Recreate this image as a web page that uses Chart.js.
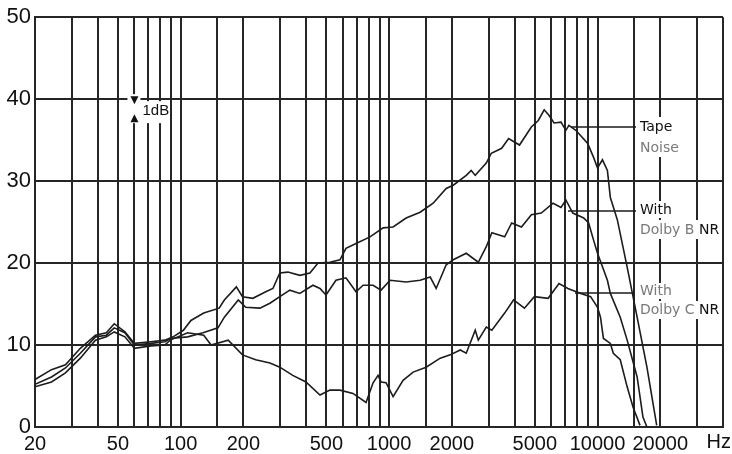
<!DOCTYPE html>
<html>
<head>
<meta charset="utf-8">
<script src="https://cdn.jsdelivr.net/npm/chart.js"></script>
<style>
  body { margin: 0; background: #fff; }
</style>
</head>
<body>
<canvas id="noiseChart" width="732" height="454"></canvas>
<script>
// frequencies (Hz) and levels (dB)
const tapeFreq = [20, 24, 28, 33, 39, 44, 48, 54, 60, 72, 84, 92, 103, 112, 129, 153, 162, 185, 198, 222, 256, 277, 299, 327, 373, 417, 456, 520, 581, 621, 694, 810, 936, 1045, 1207, 1409, 1627, 1879, 2031, 2345, 2478, 2590, 2926, 3093, 3467, 3745, 4224, 4815, 5197, 5549, 5859, 6186, 6680, 7050, 7290, 7870, 8970, 9573, 10000, 10560, 11153, 11523, 12443, 13875, 15490, 17260, 19230];
const tapeDb = [5.8, 7.0, 7.6, 9.6, 11.2, 11.5, 12.6, 11.6, 10.2, 10.4, 10.6, 11.0, 11.8, 13.0, 13.9, 14.5, 15.5, 17.1, 15.9, 15.7, 16.5, 16.9, 18.8, 18.9, 18.5, 18.8, 20.0, 20.1, 20.4, 21.8, 22.4, 23.2, 24.3, 24.4, 25.5, 26.2, 27.3, 29.1, 29.5, 30.7, 31.3, 30.7, 32.2, 33.4, 34.0, 35.2, 34.4, 36.6, 37.4, 38.7, 38.0, 37.1, 37.2, 36.2, 36.8, 36.2, 34.6, 32.9, 31.6, 32.6, 31.3, 28.0, 25.3, 19.5, 13.4, 7.3, 0.2];

const dolbyBFreq = [20, 24, 28, 33, 39, 44, 48, 54, 60, 72, 84, 89, 108, 128, 151, 162, 189, 205, 240, 268, 299, 334, 373, 431, 466, 498, 556, 621, 694, 750, 838, 915, 1011, 1207, 1409, 1575, 1682, 1879, 2031, 2345, 2679, 2926, 3112, 3585, 3873, 4318, 4815, 5370, 6120, 6680, 7050, 7610, 8584, 9066, 9573, 10000, 11153, 11523, 12853, 13875, 15490, 16520, 17260];
const dolbyBDb = [5.2, 6.1, 7.2, 9.0, 11.0, 11.2, 12.1, 11.5, 10.0, 10.2, 10.4, 10.8, 11.0, 11.5, 12.1, 13.4, 15.5, 14.6, 14.5, 15.1, 15.9, 16.7, 16.3, 17.3, 16.9, 16.1, 17.9, 18.2, 16.5, 17.3, 17.3, 16.7, 17.9, 17.7, 17.9, 18.3, 16.9, 19.8, 20.4, 21.2, 20.1, 22.0, 23.7, 23.2, 24.9, 24.4, 25.9, 26.1, 27.3, 26.8, 27.7, 26.1, 25.5, 24.9, 22.8, 21.2, 17.9, 16.3, 13.4, 10.6, 6.1, 1.2, 0];

const dolbyCFreq = [20, 24, 28, 33, 39, 44, 48, 54, 60, 72, 84, 89, 108, 129, 140, 169, 198, 229, 268, 299, 345, 399, 466, 520, 581, 671, 775, 838, 885, 915, 967, 1045, 1167, 1304, 1506, 1759, 1965, 2195, 2345, 2590, 2679, 2926, 3112, 3585, 3955, 4460, 4975, 5795, 6535, 7210, 8310, 9265, 10000, 10332, 10676, 11523, 11907, 12853, 13875, 14813, 15990];
const dolbyCDb = [4.9, 5.5, 6.6, 8.4, 10.6, 11.0, 11.6, 11.0, 9.6, 9.9, 10.0, 10.6, 11.5, 11.2, 10.0, 10.6, 8.8, 8.2, 7.8, 7.3, 6.3, 5.5, 3.9, 4.5, 4.5, 4.1, 3.0, 5.4, 6.3, 5.5, 5.4, 3.7, 5.7, 6.7, 7.3, 8.4, 8.8, 9.4, 9.0, 11.8, 10.6, 12.2, 11.8, 13.9, 15.5, 14.5, 15.9, 15.7, 17.5, 16.9, 16.3, 15.9, 14.6, 13.4, 10.8, 10.2, 9.0, 8.2, 4.9, 2.4, 0.2];

const gridFreqs = [20, 30, 40, 50, 60, 70, 80, 90, 100, 150, 200, 300, 400, 500, 600, 700, 800, 900, 1000, 1500, 2000, 3000, 4000, 5000, 6000, 7000, 8000, 9000, 10000, 15000, 20000, 30000, 40000];
const xTickValues = [20, 50, 100, 200, 500, 1000, 2000, 5000, 10000, 20000];
const xTickLabels = ['20', '50', '100', '200', '500', '1000', '2000', '5000', '10000', '20000'];
const xUnit = 'Hz';
const yTickValues = [0, 10, 20, 30, 40, 50];

const toPoints = (f, d) => f.map((v, i) => ({ x: v, y: d[i] }));

const ink = '#1c1c1c';

// curve labels, 1dB marker, unit and the gaps they leave in the grid
const annotate = {
  id: 'annotate',
  beforeDatasetsDraw(chart) {
    const c = chart.ctx;
    const x60 = chart.scales.x.getPixelForValue(60);
    const y40 = chart.scales.y.getPixelForValue(40);
    c.save();
    c.fillStyle = '#fff';
    c.fillRect(x60 - 7, y40 - 5, 13, 29);
    c.fillRect(x60 + 5, y40 + 2, 29, 22);
    c.fillRect(637, 117, 40, 40);
    c.fillRect(637, 201, 40, 17);
    c.fillRect(637, 220, 82, 19);
    c.fillRect(637, 283, 40, 16);
    c.fillRect(637, 301, 82, 18);

    c.fillStyle = '#111';
    c.beginPath();
    c.moveTo(x60 - 4, y40 - 3);
    c.lineTo(x60 + 4, y40 - 3);
    c.lineTo(x60, y40 + 5);
    c.closePath();
    c.fill();
    c.beginPath();
    c.moveTo(x60, y40 + 15);
    c.lineTo(x60 + 4, y40 + 23);
    c.lineTo(x60 - 4, y40 + 23);
    c.closePath();
    c.fill();
    c.font = '15px "Liberation Sans"';
    c.textBaseline = 'middle';
    c.textAlign = 'left';
    c.fillText('1dB', x60 + 8, y40 + 12);

    c.font = '20px "Liberation Sans"';
    c.textAlign = 'right';
    c.fillText(xUnit, 731, chart.chartArea.bottom + 15);
    c.textAlign = 'left';

    c.strokeStyle = ink;
    c.lineWidth = 1.5;
    c.beginPath();
    c.moveTo(571, 127); c.lineTo(636, 127);
    c.moveTo(568, 211); c.lineTo(636, 211);
    c.moveTo(575, 293); c.lineTo(634, 293);
    c.stroke();

    c.font = '14px "DejaVu Sans"';
    const grey = '#7a7a7a';
    c.fillStyle = '#111';
    c.fillText('Tape', 640, 127);
    c.fillStyle = grey;
    c.fillText('Noise', 640, 148);
    c.fillStyle = '#111';
    c.fillText('With', 640, 210);
    c.fillStyle = grey;
    c.fillText('Dolby B', 640, 230);
    c.fillStyle = '#111';
    c.fillText('NR', 640 + c.measureText('Dolby B ').width, 230);
    c.fillStyle = grey;
    c.fillText('With', 640, 291);
    c.fillText('Dolby C', 640, 310);
    c.fillStyle = '#111';
    c.fillText('NR', 640 + c.measureText('Dolby C ').width, 310);
    c.restore();
  }
};

const ctx = document.getElementById('noiseChart');

const lineStyle = { borderColor: ink, borderWidth: 1.6, pointRadius: 0, tension: 0, fill: false };

new Chart(ctx, {
  type: 'line',
  data: {
    datasets: [
      { label: 'Tape Noise', data: toPoints(tapeFreq, tapeDb), ...lineStyle },
      { label: 'With Dolby B NR', data: toPoints(dolbyBFreq, dolbyBDb), ...lineStyle },
      { label: 'With Dolby C NR', data: toPoints(dolbyCFreq, dolbyCDb), ...lineStyle }
    ]
  },
  options: {
    responsive: false,
    animation: false,
    layout: { padding: { top: 17, right: 9, left: 0, bottom: 0 } },
    plugins: { legend: { display: false }, tooltip: { enabled: false } },
    scales: {
      x: {
        type: 'logarithmic',
        min: 20,
        max: 40000,
        afterBuildTicks: (scale) => { scale.ticks = gridFreqs.map(v => ({ value: v })); },
        afterFit: (scale) => { scale.height = 27; scale.paddingLeft = 0; scale.paddingRight = 0; },
        grid: { color: '#262626', lineWidth: 2, drawTicks: false },
        border: { color: '#262626', width: 2 },
        ticks: {
          autoSkip: false,
          maxRotation: 0,
          minRotation: 0,
          padding: 5,
          color: '#111',
          font: { family: 'Liberation Sans', size: 20 },
          callback: (v) => {
            const i = xTickValues.indexOf(v);
            return i >= 0 ? xTickLabels[i] : '';
          }
        }
      },
      y: {
        type: 'linear',
        min: 0,
        max: 50,
        afterBuildTicks: (scale) => { scale.ticks = yTickValues.map(v => ({ value: v })); },
        afterFit: (scale) => { scale.width = 35; },
        grid: { color: '#262626', lineWidth: 2, drawTicks: false },
        border: { color: '#262626', width: 2 },
        ticks: {
          padding: 4,
          color: '#111',
          font: { family: 'Liberation Sans', size: 22 }
        }
      }
    }
  },
  plugins: [annotate]
});
</script>
</body>
</html>
